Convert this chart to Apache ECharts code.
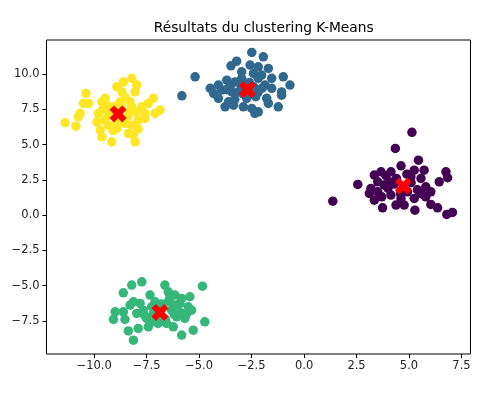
<!DOCTYPE html>
<html>
<head>
<meta charset="utf-8">
<script src="https://cdn.jsdelivr.net/npm/echarts@6/dist/echarts.min.js"></script>
<style>html,body{margin:0;padding:0;background:#fff}#c{width:483px;height:394px}</style>
</head>
<body>
<div id="c"></div>
<script>
var titleText = 'Résultats du clustering K-Means';
var xTicks = [-10, -7.5, -5, -2.5, 0, 2.5, 5, 7.5];
var yTicks = [-7.5, -5, -2.5, 0, 2.5, 5, 7.5, 10];

var cluster0 = [[5.14,5.87],[4.35,4.73],[5.45,3.90],[4.62,3.50],[6.76,3.07],[6.84,2.65],[6.44,2.36],[5.72,3.19],[5.25,3.19],[3.35,2.84],[3.67,3.07],[4.14,3.07],[2.56,2.18],[1.37,0.99],[3.11,1.54],[3.35,1.06],[3.74,0.52],[4.38,0.71],[4.77,0.71],[5.28,0.35],[5.25,1.18],[5.80,1.30],[6.04,0.76],[6.36,0.52],[6.80,0.05],[7.07,0.19],[5.80,2.01],[6.04,1.65],[3.82,2.13],[3.51,1.65],[4.14,1.42],[5.57,2.60],[5.09,2.72],[4.06,2.36],[4.62,1.18],[3.51,2.36],[3.19,1.89],[4.93,1.65],[4.4,2.6],[4.0,1.9],[5.1,2.3],[4.6,1.5],[3.9,2.8],[5.4,1.8],[4.3,2.2],[3.7,1.3],[4.9,2.9],[5.6,1.5]];
var cluster1 = [[-5.82,8.46],[-5.19,9.81],[-2.49,11.54],[-1.94,11.23],[-3.21,10.92],[-3.48,10.59],[-2.57,10.64],[-2.18,10.52],[-1.70,10.40],[-2.97,10.16],[-2.41,10.05],[-1.54,9.70],[-0.99,9.81],[-0.67,9.22],[-1.07,8.74],[-1.07,8.51],[-1.23,7.68],[-1.70,7.92],[-1.78,8.28],[-2.18,8.74],[-1.86,9.22],[-2.34,7.21],[-2.49,7.57],[-2.18,7.33],[-2.89,7.68],[-3.36,7.80],[-3.76,7.68],[-3.60,8.04],[-4.08,8.28],[-4.31,8.63],[-4.47,8.99],[-4.08,9.22],[-3.68,9.57],[-3.29,9.45],[-3.13,8.74],[-3.44,8.74],[-2.97,9.70],[-2.18,9.70],[-2.73,8.28],[-1.54,8.99],[-3.92,8.87],[-2.02,9.93],[-3.0,9.2],[-2.3,8.4],[-3.7,8.9],[-2.0,9.0],[-2.6,9.4],[-3.3,8.2],[-2.9,8.6],[-3.5,9.2],[-2.4,9.1]];
var cluster2 = [[-7.73,-4.73],[-8.21,-4.96],[-8.61,-5.51],[-8.13,-6.15],[-7.81,-6.26],[-9.00,-6.86],[-8.61,-6.86],[-9.08,-7.40],[-8.53,-7.40],[-8.37,-8.21],[-8.13,-8.87],[-7.90,-8.04],[-7.42,-7.92],[-7.97,-6.97],[-7.66,-6.74],[-7.50,-7.33],[-7.34,-5.67],[-7.10,-6.15],[-6.63,-4.96],[-6.47,-5.44],[-6.15,-5.67],[-5.83,-5.91],[-5.44,-5.79],[-5.91,-6.26],[-5.52,-6.50],[-5.36,-6.74],[-4.84,-5.04],[-4.73,-7.57],[-5.28,-8.16],[-5.83,-8.51],[-6.23,-7.92],[-6.55,-7.68],[-6.95,-7.68],[-6.07,-7.21],[-5.68,-7.33],[-6.31,-6.74],[-6.15,-6.38],[-7.18,-6.97],[-7.26,-6.50],[-8.29,-6.38],[-6.47,-6.15],[-6.8,-6.3],[-6.6,-7.4],[-7.0,-7.2],[-6.2,-7.0],[-7.6,-7.1],[-5.9,-6.9],[-7.3,-7.6],[-6.4,-5.9],[-5.6,-7.0]];
var cluster3 = [[-11.38,6.55],[-10.87,6.31],[-10.39,8.63],[-10.51,7.92],[-10.27,7.92],[-10.67,7.21],[-10.75,6.97],[-9.63,8.04],[-9.48,8.28],[-9.80,7.21],[-9.71,6.03],[-9.63,5.55],[-9.16,5.20],[-8.92,9.10],[-8.61,9.45],[-8.21,9.70],[-7.97,9.22],[-8.05,8.74],[-8.68,8.74],[-8.76,8.04],[-8.29,8.04],[-8.21,7.68],[-7.73,7.68],[-7.42,7.92],[-7.18,8.28],[-7.58,7.21],[-7.10,7.21],[-6.86,7.45],[-7.90,6.74],[-8.21,6.38],[-8.37,5.79],[-8.13,5.67],[-8.05,5.20],[-8.92,6.15],[-9.32,6.38],[-9.48,6.74],[-9.87,6.62],[-9.08,7.68],[-8.53,6.50],[-7.58,6.86],[-9.2,7.4],[-8.4,7.0],[-9.0,6.9],[-8.0,7.3],[-8.7,7.6],[-9.4,7.8],[-8.9,6.6],[-7.9,6.1],[-8.5,8.3],[-9.6,7.5],[-9.1,6.0],[-8.3,7.4],[-9.3,7.1]];
var centroids = [[4.73,2.06],[-2.7,8.9],[-6.86,-6.9],[-8.86,7.18]];

var clusterColors = ['#440154', '#31688e', '#35b779', '#fde725'];

function fmt(v){ return (v < 0 ? '\u2212' : '') + Math.abs(v).toFixed(1); }

var chart = echarts.init(document.getElementById('c'), null, {renderer: 'canvas'});
var clusters = [cluster0, cluster1, cluster2, cluster3];
var series = clusters.map(function(d, i){
  return {type: 'scatter', data: d, symbol: 'circle', symbolSize: 9.5,
    itemStyle: {color: clusterColors[i], opacity: 1}, animation: false, z: 2};
});
series.push({type: 'scatter', data: centroids,
  symbol: 'path://M0,2.6 L2.6,0 L5,2.4 L7.4,0 L10,2.6 L7.6,5 L10,7.4 L7.4,10 L5,7.6 L2.6,10 L0,7.4 L2.4,5 Z',
  symbolSize: 17, itemStyle: {color: '#ff0000', opacity: 1}, animation: false, z: 5});

var axisLabelStyle = {fontFamily: 'DejaVu Sans', fontSize: 11.5, color: '#222'};
chart.setOption({
  backgroundColor: '#ffffff',
  animation: false,
  title: {text: titleText, left: 258.7, top: 16, textAlign: 'center',
    textStyle: {fontFamily: 'DejaVu Sans', fontSize: 13.8, fontWeight: 'normal', color: '#000'}},
  grid: {left: 46.5, right: 12.5, top: 40, bottom: 40, show: true, borderColor: '#000', borderWidth: 1, backgroundColor: 'transparent'},
  xAxis: {type: 'value', min: -12.27, max: 7.93, position: 'bottom',
    axisLine: {show: false, onZero: false}, splitLine: {show: false},
    axisTick: {show: true, inside: false, length: 4, lineStyle: {color: '#000'}, customValues: xTicks},
    axisLabel: Object.assign({margin: 6, formatter: fmt, customValues: xTicks}, axisLabelStyle)},
  yAxis: {type: 'value', min: -9.85, max: 12.42, position: 'left',
    axisLine: {show: false, onZero: false}, splitLine: {show: false},
    axisTick: {show: true, inside: false, length: 4, lineStyle: {color: '#000'}, customValues: yTicks},
    axisLabel: Object.assign({margin: 7, formatter: fmt, customValues: yTicks}, axisLabelStyle)},
  series: series
});
</script>
</body>
</html>
